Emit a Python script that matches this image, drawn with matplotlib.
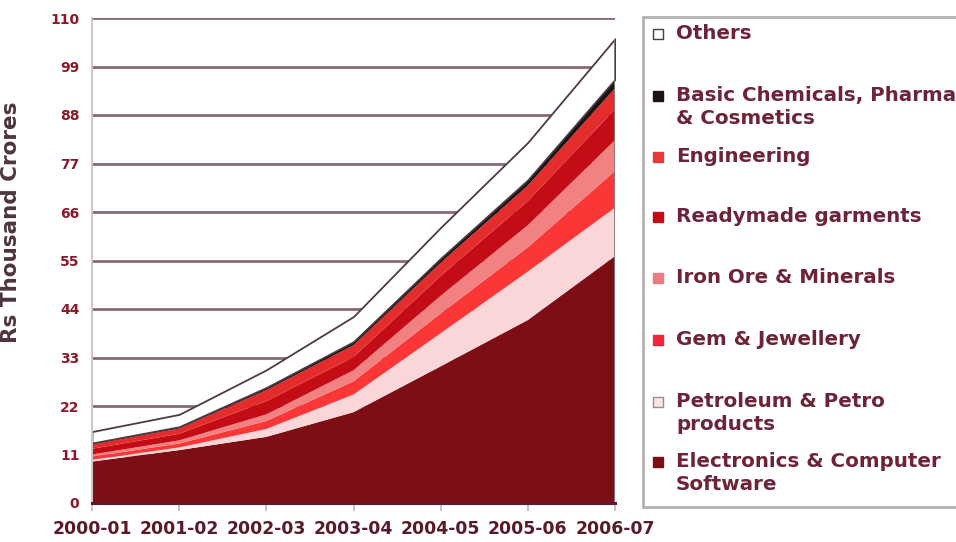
import matplotlib
matplotlib.use("Agg")
import matplotlib.pyplot as plt
from matplotlib.patches import Rectangle
import numpy as np

# Exports by commodity group, Rs thousand crores
years = ["2000-01", "2001-02", "2002-03", "2003-04", "2004-05", "2005-06", "2006-07"]
electronics = [9.4, 12.0, 15.0, 20.6, 31.0, 41.5, 56.0]
petroleum = [0.4, 0.6, 1.8, 4.0, 7.5, 11.0, 11.0]
gem = [0.7, 0.9, 1.8, 3.0, 4.5, 5.5, 8.3]
iron_ore = [0.5, 0.7, 1.5, 2.5, 4.0, 5.0, 7.0]
garments = [1.3, 1.5, 3.0, 3.0, 4.5, 5.5, 7.0]
engineering = [1.0, 1.2, 2.5, 2.7, 3.0, 3.5, 4.8]
chemicals = [0.3, 0.4, 0.6, 0.8, 1.0, 1.3, 2.0]
others = [2.6, 2.8, 4.0, 5.7, 7.0, 8.5, 9.2]

y_ticks = [0, 11, 22, 33, 44, 55, 66, 77, 88, 99, 110]

series = [electronics, petroleum, gem, iron_ore, garments, engineering, chemicals, others]
colors = ["#7d0e16", "#fbd6d8", "#fa3636", "#f28282", "#c40c16", "#e42c2c", "#1c1212", "#ffffff"]
legend_entries = [
    ("Others", "#ffffff", "#4a3a40"),
    ("Basic Chemicals, Pharma\n& Cosmetics", "#1c1212", "#1c1212"),
    ("Engineering", "#e43a3a", "#e43a3a"),
    ("Readymade garments", "#c40c16", "#c40c16"),
    ("Iron Ore & Minerals", "#f07a84", "#f07a84"),
    ("Gem & Jewellery", "#f0243a", "#f0243a"),
    ("Petroleum & Petro\nproducts", "#fbe4e6", "#9a8a8e"),
    ("Electronics & Computer\nSoftware", "#7d0e16", "#7d0e16"),
]
legend_y = [34, 96, 157, 217, 278, 340, 402, 462]

W, H = 956, 542
fig = plt.figure(figsize=(W / 100, H / 100), dpi=100)
fig.patch.set_facecolor("white")
ax = fig.add_axes([92 / W, 1 - 503 / H, (615 - 92) / W, (503 - 18) / H])

x = np.arange(len(years))
polys = ax.stackplot(x, *series, colors=colors, linewidth=0, zorder=2)
polys[-1].set_edgecolor("#4e3a42")
polys[-1].set_linewidth(1.3)
total = np.sum(np.array(series), axis=0)
ax.vlines(x[-1], 0, total[-1], color="#8a7a80", linewidth=1.3, zorder=3)

ax.set_xlim(0, len(years) - 1)
ax.set_ylim(0, 110)
ax.set_yticks(y_ticks)
ax.set_xticks(x)
ax.set_xticklabels(years)
for yv in y_ticks[1:]:
    ax.axhline(yv, color="#8a6a72", linewidth=2, zorder=1)

for s in ["top", "right"]:
    ax.spines[s].set_visible(False)
ax.spines["left"].set_color("#cfc6c8")
ax.spines["left"].set_linewidth(1.5)
ax.spines["bottom"].set_color("#5e1a28")
ax.spines["bottom"].set_linewidth(2.2)
ax.spines["bottom"].set_zorder(4)

ax.tick_params(axis="y", length=0, pad=9, labelsize=10, labelcolor="#8a1a2a")
ax.tick_params(axis="x", length=6, width=1.3, color="#c8b8bc", pad=6,
               labelsize=12.4, labelcolor="#5a1a2a")
for lab in ax.get_xticklabels() + ax.get_yticklabels():
    lab.set_fontweight("bold")

ax.set_ylabel("Rs Thousand Crores", fontsize=15.5, fontweight="bold", color="#4e3440")
ax.yaxis.set_label_coords((21 - 92) / (615 - 92), (503 - 222) / (503 - 18))

# Legend panel
frame = Rectangle((643 / W, 1 - 507 / H), (962 - 643) / W, (507 - 17) / H,
                  transform=fig.transFigure, facecolor="white", edgecolor="#b4b0b2",
                  linewidth=2, zorder=1)
fig.patches.append(frame)
for (label, fc, ec), yp in zip(legend_entries, legend_y):
    sq = 10
    fig.patches.append(Rectangle((653 / W, 1 - (yp + sq / 2) / H), sq / W, sq / H,
                                 transform=fig.transFigure, facecolor=fc, edgecolor=ec,
                                 linewidth=1, zorder=2))
    fig.text(676 / W, 1 - (yp - 10) / H, label, ha="left", va="top",
             fontsize=14.3, fontweight="bold", color="#6e2438", linespacing=1.3)

fig.savefig("out.png", dpi=100)
